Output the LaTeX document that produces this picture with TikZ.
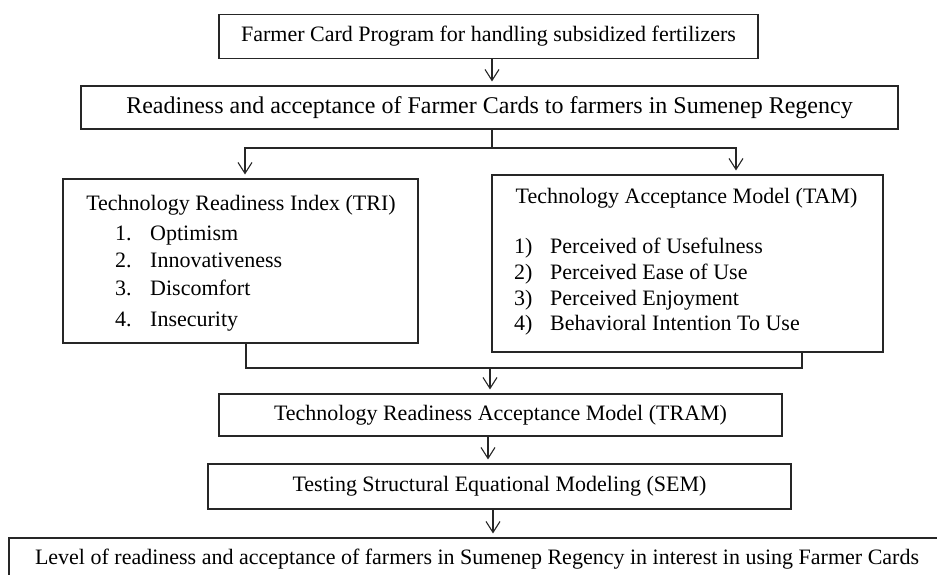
\documentclass[tikz,border=0pt]{standalone}
\usepackage{fontspec}
\setmainfont{Liberation Serif}
\usetikzlibrary{arrows.meta}
\begin{document}
\begin{tikzpicture}[x=1pt,y=-1pt,
  box/.style={draw=black!85, line width=1.1pt, inner sep=0pt, font=\fontsize{22}{26}\selectfont},
  txt/.style={inner sep=0pt, font=\fontsize{22}{26}\selectfont, anchor=base west},
  conn/.style={draw=black!85, line width=1.1pt},
  arr/.style={conn, -{Straight Barb[length=11pt,width=14pt,line width=1.1pt]}, shorten >=4pt}
]
\useasboundingbox (0,0) rectangle (937,574);

% boxes
\node[box, minimum width=539pt, minimum height=44pt] (b1) at (488.5,36.5) {Farmer Card Program for handling subsidized fertilizers};
\node[box, minimum width=817pt, minimum height=43pt, font=\fontsize{24}{28}\selectfont] (b2) at (489.5,107.5) {Readiness and acceptance of Farmer Cards to farmers in Sumenep Regency};
\node[box, minimum width=355pt, minimum height=164pt] (tri) at (240.5,261) {};
\node[box, minimum width=391pt, minimum height=177pt] (tam) at (687.5,263.5) {};
\node[box, minimum width=563pt, minimum height=42pt] (tram) at (500.5,415) {Technology Readiness Acceptance Model (TRAM)};
\node[box, minimum width=583pt, minimum height=45pt] (sem) at (499.5,486.5) {Testing Structural Equational Modeling (SEM)};
\node[box, minimum width=936pt, minimum height=42pt] (last) at (477,559) {Level of readiness and acceptance of farmers in Sumenep Regency in interest in using Farmer Cards};

% TRI contents
\node[txt, anchor=base] (trih) at (241,210) {Technology Readiness Index (TRI)};
\node[txt] (trin1) at (115,240.7) {1.};
\node[txt] (trin2) at (115,267.7) {2.};
\node[txt] (trin3) at (115,295) {3.};
\node[txt] (trin4) at (115,326.7) {4.};
\node[txt] (trit1) at (150,240.7) {Optimism};
\node[txt] (trit2) at (150,267.7) {Innovativeness};
\node[txt] (trit3) at (150,295) {Discomfort};
\node[txt] (trit4) at (150,326.7) {Insecurity};

% TAM contents
\node[txt, anchor=base] (tamh) at (686.5,203.3) {Technology Acceptance Model (TAM)};
\node[txt] (tamn1) at (514,253.3) {1)};
\node[txt] (tamn2) at (514,279.3) {2)};
\node[txt] (tamn3) at (514,305) {3)};
\node[txt] (tamn4) at (514,330.7) {4)};
\node[txt] (tamt1) at (550,253.3) {Perceived of Usefulness};
\node[txt] (tamt2) at (550,279.3) {Perceived Ease of Use};
\node[txt] (tamt3) at (550,305) {Perceived Enjoyment};
\node[txt] (tamt4) at (550,330.7) {Behavioral Intention To Use};

% helper coordinates
\coordinate (x1) at (492,0);
\coordinate (sp) at (492,148);
\coordinate (xl) at (245,0);
\coordinate (xr) at (736,0);
\coordinate (ml) at (246,368);
\coordinate (mr) at (802,368);
\coordinate (mm) at (490,368);
\coordinate (x2) at (488,0);
\coordinate (x3) at (493,0);

% connectors
\draw[arr] (b1.south -| x1) -- (b2.north -| x1);
\draw[conn] (b2.south -| sp) -- (sp);
\draw[arr] (sp) -| (tri.north -| xl);
\draw[arr] (sp) -| (tam.north -| xr);
\draw[conn] (tri.south -| ml) -- (ml) -- (mr) -- (tam.south -| mr);
\draw[arr] (mm) -- (tram.north -| mm);
\draw[arr] (tram.south -| x2) -- (sem.north -| x2);
\draw[arr] (sem.south -| x3) -- (last.north -| x3);
\end{tikzpicture}
\end{document}
